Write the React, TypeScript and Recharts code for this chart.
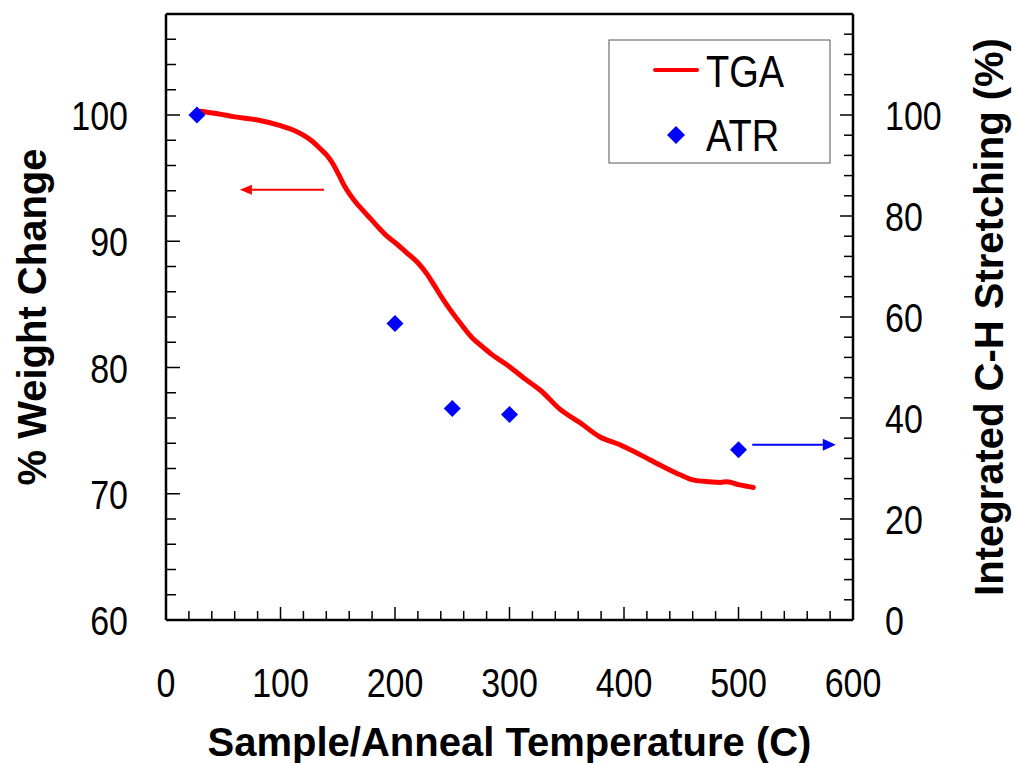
import React from 'react';
import { ComposedChart, Line, Scatter, XAxis, YAxis, ReferenceLine, Legend } from 'recharts';

// TGA curve: temperature (C) and % weight change
const tgaTemp = [30, 45, 60, 80, 100, 110, 120, 128, 135, 141, 146, 151, 156, 161, 166, 172, 180, 187, 193, 200, 210, 220, 228, 235, 242, 248, 258, 268, 277, 285, 298, 315, 327, 344, 362, 379, 396, 414, 431, 449, 460, 475, 484, 490, 501, 513];
const tgaWeight = [100.3, 100.1, 99.85, 99.6, 99.15, 98.85, 98.4, 97.9, 97.3, 96.75, 96.1, 95.25, 94.35, 93.65, 93.05, 92.45, 91.65, 90.95, 90.4, 89.9, 89.1, 88.3, 87.4, 86.4, 85.4, 84.6, 83.4, 82.3, 81.6, 81.0, 80.2, 79.0, 78.2, 76.7, 75.6, 74.5, 73.9, 73.1, 72.3, 71.5, 71.1, 70.95, 70.9, 70.95, 70.7, 70.5];

// ATR: anneal temperature (C) and integrated C-H stretching (%)
const atrTemp = [27, 200, 250, 300, 500];
const atrStretch = [100, 58.7, 41.9, 40.7, 33.7];

// Axis ticks
const xMajorTicks = [0, 100, 200, 300, 400, 500, 600];
const leftMajorTicks = [60, 70, 80, 90, 100];
const rightMajorTicks = [0, 20, 40, 60, 80, 100];

// Annotation arrows (data units): [x start, x end, y]
const redArrow = [138, 64.5, 94.07];
const blueArrow = [512, 585, 34.7];

const xTicks: number[] = [];
for (let v = 0; v <= 600; v += 20) xTicks.push(v);
const leftTicks: number[] = [];
for (let v = 60; v <= 108; v += 2) leftTicks.push(v);
const rightTicks: number[] = [];
for (let v = 0; v <= 120; v += 4) rightTicks.push(v);

const tgaData = tgaTemp.map((t, i) => ({ t, w: tgaWeight[i] }));
const atrData = atrTemp.map((t, i) => ({ t, c: atrStretch[i] }));

const FONT = '"Liberation Sans", Arial, Helvetica, sans-serif';
const TICK_FS = 34;
const TICK_SY = 1.22;
const TITLE_FS = 40;

const StretchText = ({ x, y, anchor, size, sy, children }: any) => (
  <text
    transform={`translate(${x},${y}) scale(1,${sy})`}
    x={0}
    y={0}
    textAnchor={anchor}
    fontFamily={FONT}
    fontSize={size}
    fill="#000"
  >
    {children}
  </text>
);

const XTick = (props: any) => {
  const { x, y, payload } = props;
  const v = payload.value;
  const major = xMajorTicks.includes(v);
  return (
    <g>
      <line x1={x} x2={x} y1={y} y2={y - (major ? 13 : 9)} stroke="#000" strokeWidth={1.5} />
      {major && (
        <StretchText x={x} y={y + 77} anchor="middle" size={TICK_FS} sy={TICK_SY}>
          {v}
        </StretchText>
      )}
    </g>
  );
};

const LeftTick = (props: any) => {
  const { x, y, payload } = props;
  const v = payload.value;
  const major = leftMajorTicks.includes(v);
  return (
    <g>
      <line x1={x} x2={x + (major ? 14 : 10)} y1={y} y2={y} stroke="#000" strokeWidth={1.5} />
      {major && (
        <StretchText x={x - 38} y={y + 15} anchor="end" size={TICK_FS} sy={TICK_SY}>
          {v}
        </StretchText>
      )}
    </g>
  );
};

const RightTick = (props: any) => {
  const { x, y, payload } = props;
  const v = payload.value;
  const major = rightMajorTicks.includes(v);
  return (
    <g>
      <line x1={x} x2={x - (major ? 13 : 9)} y1={y} y2={y} stroke="#000" strokeWidth={1.5} />
      {major && (
        <StretchText x={x + 32} y={y + 15} anchor="start" size={TICK_FS} sy={TICK_SY}>
          {v}
        </StretchText>
      )}
    </g>
  );
};

const Diamond = (props: any) => {
  const { cx, cy } = props;
  const r = 8.5;
  return <polygon points={`${cx},${cy - r} ${cx + r},${cy} ${cx},${cy + r} ${cx - r},${cy}`} fill="#0000ff" />;
};

const arrowShape = (color: string, head: number, half: number) => (p: any) => {
  const { x1, y1, x2, y2 } = p;
  const dir = Math.sign(x2 - x1) || 1;
  return (
    <g>
      <line x1={x1} y1={y1} x2={x2 - dir * head} y2={y2} stroke={color} strokeWidth={2} />
      <polygon points={`${x2},${y2} ${x2 - dir * head},${y2 - half} ${x2 - dir * head},${y2 + half}`} fill={color} />
    </g>
  );
};

const LegendBox = () => (
  <svg width={223} height={125} style={{ display: 'block' }}>
    <rect x={1} y={1} width={221} height={123} fill="#fff" stroke="#555" strokeWidth={1} />
    <line x1={47} x2={89} y1={31} y2={31} stroke="#ff0000" strokeWidth={4} strokeLinecap="round" />
    <StretchText x={98} y={48} anchor="start" size={38} sy={1.15}>TGA</StretchText>
    <polygon points="68,87 77,96 68,105 59,96" fill="#0000ff" />
    <StretchText x={98} y={112} anchor="start" size={38} sy={1.15}>ATR</StretchText>
  </svg>
);

export default function App() {
  return (
    <div style={{ position: 'absolute', left: 0, top: 0, width: 1015, height: 763, background: '#fff' }}>
      <ComposedChart
        width={1015}
        height={763}
        margin={{ top: 14, right: 62, bottom: 83, left: 66 }}
      >
        <XAxis
          xAxisId="x"
          dataKey="t"
          type="number"
          domain={[0, 600]}
          ticks={xTicks}
          interval={0}
          allowDataOverflow
          height={60}
          tickSize={0}
          tickMargin={0}
          tickLine={false}
          axisLine={{ stroke: '#000', strokeWidth: 2.5 }}
          tick={<XTick />}
          label={{
            value: 'Sample/Anneal Temperature (C)',
            position: 'center',
            dy: 92,
            style: { fontFamily: FONT, fontSize: TITLE_FS, fontWeight: 'bold', fill: '#000' },
          }}
        />
        <YAxis
          yAxisId="left"
          type="number"
          domain={[60, 108]}
          ticks={leftTicks}
          interval={0}
          allowDataOverflow
          width={100}
          tickSize={0}
          tickMargin={0}
          tickLine={false}
          axisLine={{ stroke: '#000', strokeWidth: 2.5 }}
          tick={<LeftTick />}
          label={{
            value: '% Weight Change',
            angle: -90,
            position: 'center',
            dx: -84,
            style: { fontFamily: FONT, fontSize: TITLE_FS, fontWeight: 'bold', fill: '#000' },
          }}
        />
        <YAxis
          yAxisId="right"
          orientation="right"
          type="number"
          domain={[0, 120]}
          ticks={rightTicks}
          interval={0}
          allowDataOverflow
          width={100}
          tickSize={0}
          tickMargin={0}
          tickLine={false}
          axisLine={{ stroke: '#000', strokeWidth: 2.5 }}
          tick={<RightTick />}
          label={{
            value: 'Integrated C-H Stretching (%)',
            angle: -90,
            position: 'center',
            dx: 86,
            style: { fontFamily: FONT, fontSize: TITLE_FS, fontWeight: 'bold', fill: '#000' },
          }}
        />
        <ReferenceLine xAxisId="x" yAxisId="left" y={108} stroke="#000" strokeWidth={2.5} ifOverflow="visible" />
        <ReferenceLine
          xAxisId="x"
          yAxisId="left"
          segment={[{ x: redArrow[0], y: redArrow[2] }, { x: redArrow[1], y: redArrow[2] }]}
          shape={arrowShape('#ff0000', 12, 5)}
          ifOverflow="visible"
        />
        <ReferenceLine
          xAxisId="x"
          yAxisId="right"
          segment={[{ x: blueArrow[0], y: blueArrow[2] }, { x: blueArrow[1], y: blueArrow[2] }]}
          shape={arrowShape('#0000ff', 13, 6)}
          ifOverflow="visible"
        />
        <Line
          xAxisId="x"
          yAxisId="left"
          data={tgaData}
          dataKey="w"
          type="monotone"
          stroke="#ff0000"
          strokeWidth={5}
          strokeLinecap="round"
          strokeLinejoin="round"
          dot={false}
          activeDot={false}
          isAnimationActive={false}
        />
        <Scatter
          xAxisId="x"
          yAxisId="right"
          data={atrData}
          dataKey="c"
          shape={<Diamond />}
          isAnimationActive={false}
        />
        <Legend
          layout="horizontal"
          verticalAlign="middle"
          align="center"
          content={<LegendBox />}
          wrapperStyle={{ position: 'absolute', left: 608, top: 39, width: 223, height: 125 }}
        />
      </ComposedChart>
    </div>
  );
}
